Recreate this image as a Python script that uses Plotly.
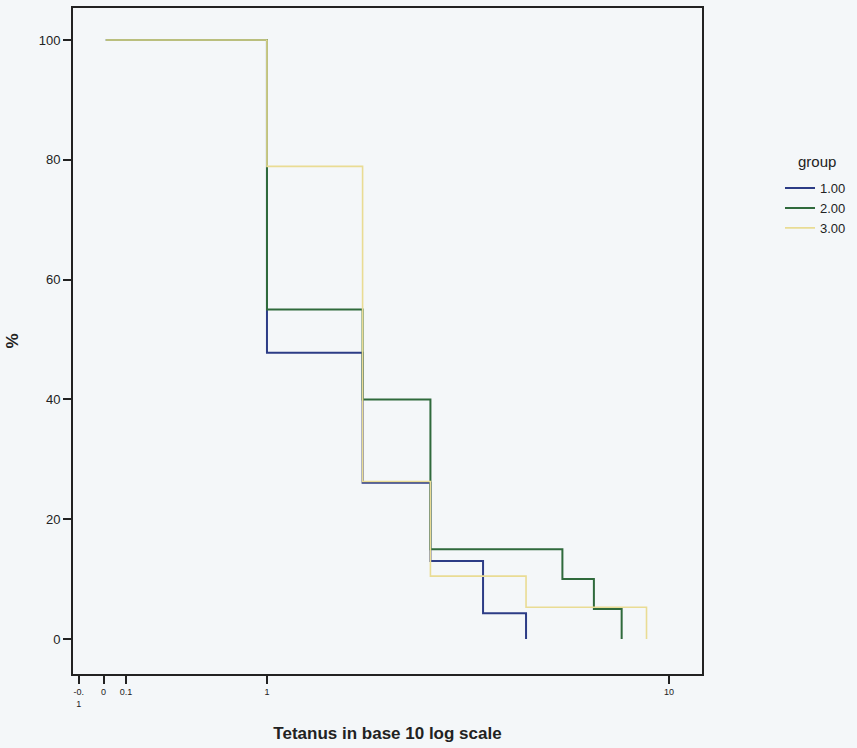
import plotly.graph_objects as go

# Data (x in original units; y in %)
g1_x = [0.01, 1, 2, 3, 4, 5]
g1_y = [100, 47.8, 26.1, 13.0, 4.3, 0]
g2_x = [0.01, 1, 2, 3, 6, 7, 8]
g2_y = [100, 55, 40, 15, 10, 5, 0]
g3_x = [0.01, 1, 2, 3, 5, 9]
g3_y = [100, 78.9, 26.3, 10.5, 5.3, 0]
group_names = ["1.00", "2.00", "3.00"]
x_ticks = [-0.1, 0, 0.1, 1, 10]
x_tick_labels = ["-0.<br>1", "0", "0.1", "1", "10"]
y_ticks = [0, 20, 40, 60, 80, 100]

colors = ["#2c3c86", "#2f6a3c", "#e9dc94"]
widths = [2, 2, 1.6]

fig = go.Figure()
for name, xs, ys, c, w in zip(group_names, [g1_x, g2_x, g3_x], [g1_y, g2_y, g3_y], colors, widths):
    fig.add_trace(go.Scatter(
        x=[v + 1 for v in xs], y=ys, mode="lines", name=name,
        line=dict(color=c, width=w, shape="hv"),
    ))

font_family = "Arial, Liberation Sans, Helvetica, sans-serif"
fig.update_layout(
    width=857, height=748,
    margin=dict(l=73, r=155, t=8, b=74, autoexpand=False),
    paper_bgcolor="#f4f7f9",
    plot_bgcolor="#f4f7f9",
    font=dict(family=font_family, color="#222222"),
    showlegend=True,
    legend=dict(
        x=1.124, xanchor="left", y=0.752, yanchor="top",
        bgcolor="rgba(0,0,0,0)", font=dict(size=13, color="#222"),
        tracegroupgap=0, itemwidth=30,
    ),
    annotations=[dict(
        text="group", xref="paper", yref="paper", x=1.183, y=0.770,
        xanchor="center", yanchor="middle", showarrow=False,
        font=dict(size=15, color="#222"),
    )],
    xaxis=dict(
        type="log",
        range=[-0.0562, 1.1022],
        tickvals=[v + 1 for v in x_ticks], ticktext=x_tick_labels,
        ticks="outside", ticklen=8, tickwidth=2, tickcolor="#222",
        tickfont=dict(size=9, color="#222"),
        showgrid=False, zeroline=False,
        showline=True, linecolor="#222", linewidth=2, mirror=True,
        title=dict(text="<b>Tetanus in base 10 log scale</b>", font=dict(size=17, color="#222"), standoff=20),
    ),
    yaxis=dict(
        range=[-5.85, 105.35],
        tickvals=y_ticks,
        ticks="outside", ticklen=8, tickwidth=2, tickcolor="#222",
        tickfont=dict(size=13, color="#222"),
        showgrid=False, zeroline=False,
        showline=True, linecolor="#222", linewidth=2, mirror=True,
        title=dict(text="<b>%</b>", font=dict(size=17, color="#222"), standoff=16),
    ),
)

fig.write_html(
    "out.html",
    config={"displayModeBar": False},
    post_script="document.body.style.margin='0';document.body.style.background='#f4f7f9';",
)
